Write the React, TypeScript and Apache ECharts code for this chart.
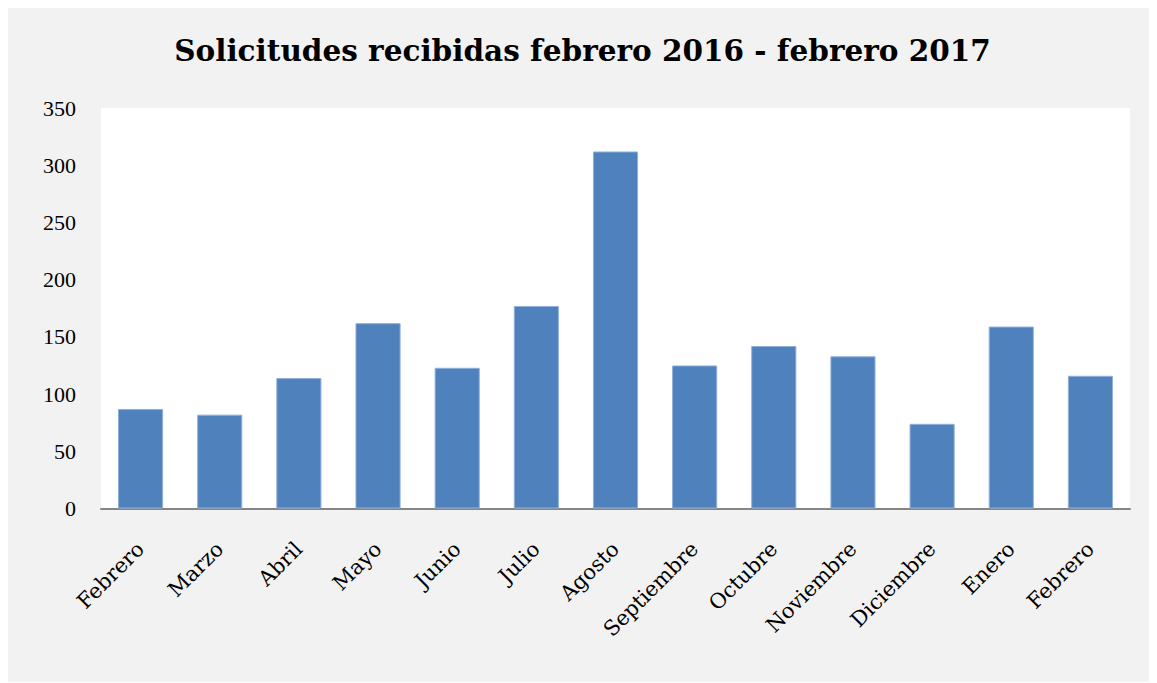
import React, { useEffect, useRef } from "react";
import * as echarts from "echarts";

const titleText = "Solicitudes recibidas febrero 2016 - febrero 2017";
const categories = [
  "Febrero", "Marzo", "Abril", "Mayo", "Junio", "Julio", "Agosto",
  "Septiembre", "Octubre", "Noviembre", "Diciembre", "Enero", "Febrero",
];
const values = [87, 82, 114, 162, 123, 177, 312, 125, 142, 133, 74, 159, 116];
const yMin = 0;
const yMax = 350;
const yInterval = 50;

export default function App() {
  const ref = useRef<HTMLDivElement>(null);
  useEffect(() => {
    if (!ref.current) return;
    const chart = echarts.init(ref.current, undefined, { renderer: "svg" });
    chart.setOption({
      animation: false,
      backgroundColor: "#f2f2f2",
      title: {
        text: titleText,
        left: "center",
        top: 22,
        textStyle: {
          fontFamily: "DejaVu Serif",
          fontWeight: "bold",
          fontSize: 29.5,
          color: "#000",
        },
      },
      grid: { left: 93, right: 27, top: 100, bottom: 173.5, containLabel: false },
      xAxis: {
        type: "category",
        data: categories,
        axisLine: { show: true, lineStyle: { color: "#868686", width: 2 } },
        axisTick: { show: false },
        axisLabel: {
          rotate: 45,
          margin: 37,
          interval: 0,
          fontFamily: "DejaVu Serif",
          fontSize: 21,
          color: "#000",
        },
      },
      yAxis: {
        type: "value",
        min: yMin,
        max: yMax,
        interval: yInterval,
        axisLine: { show: false },
        axisTick: { show: false },
        splitLine: { show: false },
        axisLabel: {
          margin: 25,
          fontFamily: "Liberation Serif",
          fontSize: 22,
          color: "#000",
        },
      },
      series: [
        {
          type: "bar",
          data: values,
          barCategoryGap: "43%",
          itemStyle: {
            color: "#4f81bd",
            borderColor: "#8fb0dc",
            borderWidth: 1,
          },
        },
      ],
      graphic: [
        {
          type: "rect",
          z: -10,
          silent: true,
          shape: { x: 93, y: 100, width: 1029, height: 400.5 },
          style: { fill: "#ffffff" },
        },
      ],
    });
    return () => chart.dispose();
  }, []);
  return (
    <div
      ref={ref}
      style={{ width: 1149, height: 674, background: "#f2f2f2" }}
    />
  );
}
